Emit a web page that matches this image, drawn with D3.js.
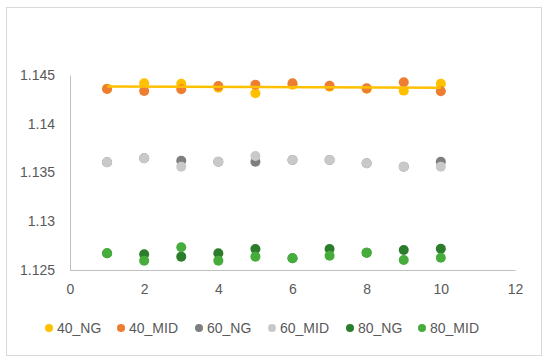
<!DOCTYPE html>
<html>
<head>
<meta charset="utf-8">
<script src="https://cdn.jsdelivr.net/npm/d3@7"></script>
<style>
  body { margin: 0; background: #fff; }
  text { font-family: "Liberation Sans", Arial, sans-serif; }
</style>
</head>
<body>
<script>
// data
var xs = [1, 2, 3, 4, 5, 6, 7, 8, 9, 10];
var ng40  = [1.1436, 1.14415, 1.1441, 1.1437, 1.14312, 1.1440, 1.1438, 1.1436, 1.1434, 1.1441];
var mid40 = [1.14357, 1.14336, 1.14353, 1.14387, 1.1440, 1.14415, 1.1439, 1.14363, 1.14425, 1.14333];
var ng60  = [1.13605, 1.13646, 1.13621, 1.13611, 1.13611, 1.13628, 1.13628, 1.13594, 1.1356, 1.13611];
var mid60 = [1.13605, 1.13646, 1.1356, 1.13611, 1.13669, 1.13628, 1.13628, 1.13594, 1.1356, 1.1356];
var ng80  = [1.12671, 1.12661, 1.12637, 1.12671, 1.12715, 1.1262, 1.12715, 1.12678, 1.12705, 1.12718];
var mid80 = [1.12671, 1.12596, 1.12733, 1.12596, 1.12637, 1.1262, 1.12647, 1.12678, 1.12603, 1.12626];
var seriesNames = ["40_NG", "40_MID", "60_NG", "60_MID", "80_NG", "80_MID"];
var seriesColors = ["#FFC000", "#ED7D31", "#7F7F7F", "#C9C9C9", "#2B7D2B", "#46AD3C"];
var yTicks = [1.125, 1.13, 1.135, 1.14, 1.145];
var xTicks = [0, 2, 4, 6, 8, 10, 12];

var allSeries = [ng40, mid40, ng60, mid60, ng80, mid80];

var svg = d3.select("body")
            .append("svg")
            .attr("width", 550)
            .attr("height", 362)

svg.append("rect")
   .attr("x", 6.5).attr("y", 7.5)
   .attr("width", 535).attr("height", 348)
   .attr("fill", "#fff")
   .attr("stroke", "#d9d9d9")

var x = d3.scaleLinear().domain([0, 12]).range([70, 515]);
var y = d3.scaleLinear().domain([1.125, 1.145]).range([270, 75]);

// axes
var yAxis = svg.append("g")
   .attr("transform", "translate(70,0)")
   .call(d3.axisLeft(y).tickValues(yTicks).tickSize(0).tickPadding(15)
          .tickFormat(function(d) { return d3.format("")(+d.toFixed(3)); }))
yAxis.select(".domain").attr("stroke", "#bfbfbf")
yAxis.selectAll("text").attr("fill", "#595959").style("font-size", "14px")

var xAxis = svg.append("g")
   .attr("transform", "translate(0,270)")
   .call(d3.axisBottom(x).tickValues(xTicks).tickSize(0).tickPadding(14))
xAxis.select(".domain").attr("stroke", "#bfbfbf")
xAxis.selectAll("text").attr("fill", "#595959").style("font-size", "14px")

// points
allSeries.forEach(function(vals, i) {
  svg.append("g")
     .selectAll("circle")
     .data(vals)
     .enter().append("circle")
     .attr("cx", function(d, j) { return x(xs[j]); })
     .attr("cy", function(d) { return y(d); })
     .attr("r", 5)
     .attr("fill", seriesColors[i])
});

// linear trend of 40_NG
var mx = d3.mean(xs), my = d3.mean(ng40);
var sxy = d3.sum(xs, function(v, j) { return (v - mx) * (ng40[j] - my); });
var sxx = d3.sum(xs, function(v) { return (v - mx) * (v - mx); });
var slope = sxy / sxx, icpt = my - slope * mx;
svg.append("line")
   .attr("x1", x(xs[0])).attr("y1", y(icpt + slope * xs[0]))
   .attr("x2", x(xs[xs.length - 1])).attr("y2", y(icpt + slope * xs[xs.length - 1]))
   .attr("stroke", "#FFC000")
   .attr("stroke-width", 2.5)

// legend
var legendX = [49, 121, 199, 272, 350, 422];
var legend = svg.append("g")
seriesNames.forEach(function(n, i) {
  legend.append("circle")
        .attr("cx", legendX[i]).attr("cy", 328)
        .attr("r", 4)
        .attr("fill", seriesColors[i])
  legend.append("text")
        .attr("x", legendX[i] + 8).attr("y", 333)
        .attr("fill", "#595959")
        .style("font-size", "14px")
        .text(n)
});
</script>
</body>
</html>
